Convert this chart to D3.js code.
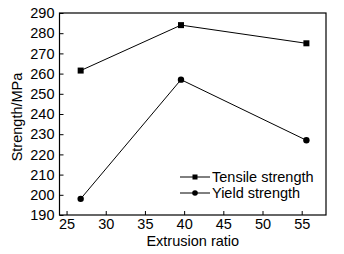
<!DOCTYPE html>
<html>
<head>
<meta charset="utf-8">
<script src="https://cdn.jsdelivr.net/npm/d3@7"></script>
<style>
body { margin: 0; background: #fff; }
text { font-family: "Liberation Sans", Arial, sans-serif; fill: #000; }
</style>
</head>
<body>
<svg id="chart" width="344" height="254"></svg>
<script>
const ratios = [26.8, 39.6, 55.6];
const tensile = [261.5, 284, 275];
const yieldStr = [198, 257, 227];
const xTicks = [25, 30, 35, 40, 45, 50, 55];
const yTicks = [190, 200, 210, 220, 230, 240, 250, 260, 270, 280, 290];

const fontSize = 14.5;
const margin = { left: 59.5, top: 13, right: 18, bottom: 39 };
const width = 344 - margin.left - margin.right;
const height = 254 - margin.top - margin.bottom;

const svg = d3.select('#chart');
const g = svg.append('g').attr('transform', `translate(${margin.left},${margin.top})`);

const x = d3.scaleLinear().domain([24.1, 58.1]).range([0, width]);
const y = d3.scaleLinear().domain([190, 290]).range([height, 0]);

// frame
g.append('rect')
	.attr('width', width).attr('height', height)
	.attr('fill', 'none').attr('stroke', '#000').attr('stroke-width', 1.2);

const xAxis = g.append('g')
	.attr('transform', `translate(0,${height})`)
	.call(d3.axisBottom(x).tickValues(xTicks).tickSizeInner(-4).tickSizeOuter(0).tickPadding(4));
const yAxis = g.append('g')
	.call(d3.axisLeft(y).tickValues(yTicks).tickSizeInner(-4).tickSizeOuter(0).tickPadding(5));

[xAxis, yAxis].forEach(a => {
	a.select('.domain').remove();
	a.selectAll('line').attr('stroke', '#000');
	a.selectAll('text').attr('font-size', fontSize).attr('fill', '#000')
		.style('font-family', '"Liberation Sans", Arial, sans-serif');
});

const line = d3.line().x(d => x(d[0])).y(d => y(d[1]));
const series = [
	{ name: 'Tensile strength', vals: tensile, shape: 'square' },
	{ name: 'Yield strength', vals: yieldStr, shape: 'circle' }
];

const drawMarker = (sel, shape, cx, cy) => {
	if (shape === 'square') {
		sel.append('rect').attr('x', cx - 3).attr('y', cy - 3).attr('width', 6).attr('height', 6).attr('fill', '#000');
	} else {
		sel.append('circle').attr('cx', cx).attr('cy', cy).attr('r', 3.2).attr('fill', '#000');
	}
};

series.forEach(s => {
	const pts = ratios.map((r, i) => [r, s.vals[i]]);
	g.append('path').attr('d', line(pts)).attr('fill', 'none').attr('stroke', '#000').attr('stroke-width', 1);
	pts.forEach(p => drawMarker(g, s.shape, x(p[0]), y(p[1])));
});

// legend
const legend = svg.append('g').attr('transform', 'translate(180,177)');
series.forEach((s, i) => {
	const row = legend.append('g').attr('transform', `translate(0,${i * 16})`);
	row.append('line').attr('x1', 0).attr('x2', 30).attr('stroke', '#000').attr('stroke-width', 1);
	if (s.shape === 'square') {
		row.append('rect').attr('x', 12.5).attr('y', -2.5).attr('width', 5).attr('height', 5).attr('fill', '#000');
	} else {
		row.append('circle').attr('cx', 15).attr('cy', 0).attr('r', 2.8).attr('fill', '#000');
	}
	row.append('text').attr('x', 32).attr('y', 0).attr('dy', '0.35em').attr('font-size', fontSize).text(s.name);
});

svg.append('text')
	.attr('x', margin.left + width / 2).attr('y', 246)
	.attr('text-anchor', 'middle').attr('font-size', fontSize)
	.text('Extrusion ratio');

svg.append('text')
	.attr('transform', `translate(22,${margin.top + height / 2 + 3}) rotate(-90)`)
	.attr('text-anchor', 'middle').attr('font-size', fontSize)
	.text('Strength/MPa');
</script>
</body>
</html>
